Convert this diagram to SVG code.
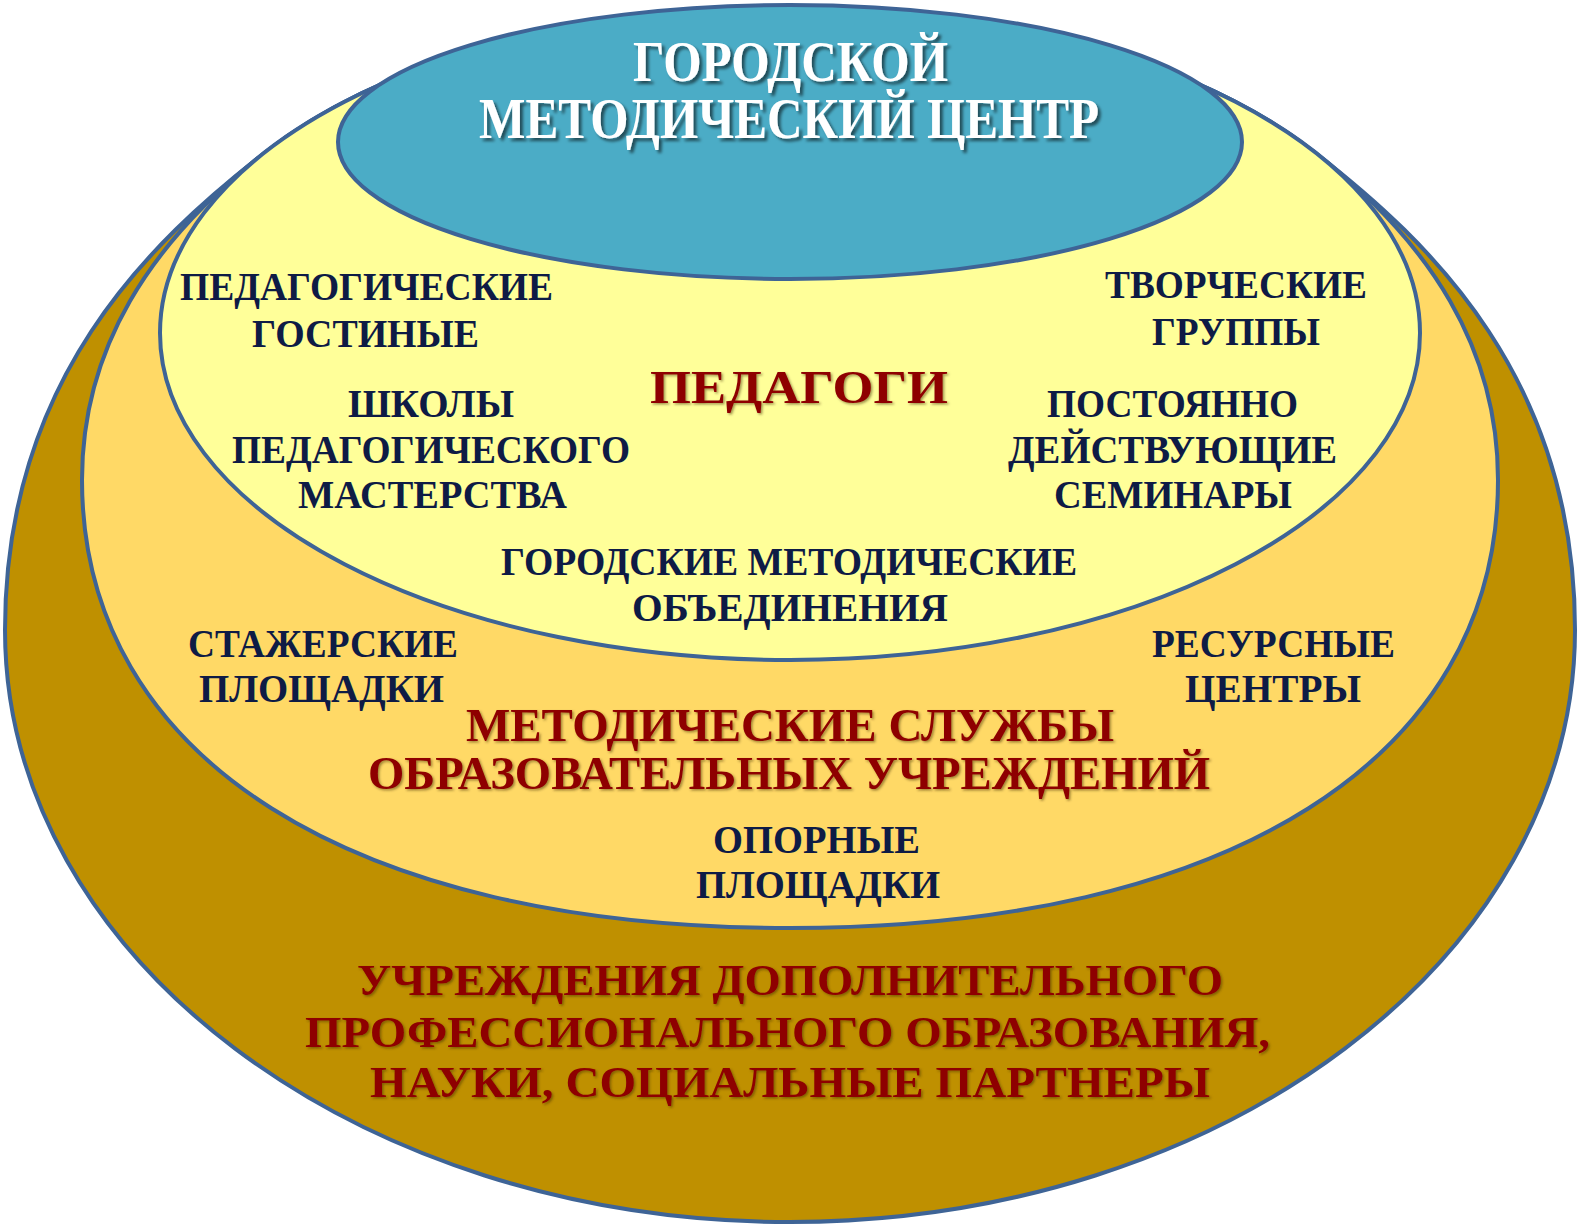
<svg xmlns="http://www.w3.org/2000/svg" width="1581" height="1225" viewBox="0 0 1581 1225">
<defs>
<style>
.ring{stroke:#3E6496;stroke-width:4}
.t{font-family:"Liberation Serif","DejaVu Serif",serif;font-weight:bold;font-size:40px;fill:#0E1B45}
.r{font-family:"Liberation Serif","DejaVu Serif",serif;font-weight:bold;fill:#8E0000;filter:url(#rs)}
.w{font-family:"Liberation Serif","DejaVu Serif",serif;font-weight:bold;font-size:56px;fill:#FFFFFF;filter:url(#ws)}
</style>
<filter id="ws" x="-10%" y="-30%" width="120%" height="160%">
<feDropShadow dx="3" dy="3" stdDeviation="1.5" flood-color="#000000" flood-opacity="0.55"/>
</filter>
<filter id="rs" x="-10%" y="-30%" width="120%" height="160%">
<feDropShadow dx="1.5" dy="1.5" stdDeviation="1" flood-color="#3a2a00" flood-opacity="0.5"/>
</filter>
</defs>
<rect width="1581" height="1225" fill="#FFFFFF"/>

<g id="outer">
<path class="ring" fill="#BF9000" d="M 267,151 C 148,243 5,380 5,630 C 5,957 357,1222 790,1222 C 1223,1222 1575,957 1575,630 C 1575,380 1432,243 1313,151 A 630 327 0 0 0 267 151 Z"/>
<text class="r" font-size="44" x="357" y="995" textLength="866" lengthAdjust="spacingAndGlyphs">УЧРЕЖДЕНИЯ ДОПОЛНИТЕЛЬНОГО</text>
<text class="r" font-size="44" x="305" y="1047" textLength="965" lengthAdjust="spacingAndGlyphs">ПРОФЕССИОНАЛЬНОГО ОБРАЗОВАНИЯ,</text>
<text class="r" font-size="44" x="370" y="1097" textLength="840" lengthAdjust="spacingAndGlyphs">НАУКИ, СОЦИАЛЬНЫЕ ПАРТНЕРЫ</text>
</g>

<g id="middle">
<path class="ring" fill="#FFD966" d="M 267,151 C 148,243 82,350 82,480 C 82,758 351,928 790,928 C 1229,928 1498,758 1498,480 C 1498,350 1432,243 1313,151 A 630 327 0 0 0 267 151 Z"/>
<text class="t" x="188" y="657" textLength="270" lengthAdjust="spacingAndGlyphs">СТАЖЕРСКИЕ</text>
<text class="t" x="199" y="702" textLength="245" lengthAdjust="spacingAndGlyphs">ПЛОЩАДКИ</text>
<text class="t" x="1152" y="657" textLength="243" lengthAdjust="spacingAndGlyphs">РЕСУРСНЫЕ</text>
<text class="t" x="1185" y="702" textLength="176" lengthAdjust="spacingAndGlyphs">ЦЕНТРЫ</text>
<text class="r" font-size="46" x="466" y="741" textLength="648" lengthAdjust="spacingAndGlyphs">МЕТОДИЧЕСКИЕ СЛУЖБЫ</text>
<text class="r" font-size="46" x="368" y="789" textLength="842" lengthAdjust="spacingAndGlyphs">ОБРАЗОВАТЕЛЬНЫХ УЧРЕЖДЕНИЙ</text>
<text class="t" x="713" y="853" textLength="207" lengthAdjust="spacingAndGlyphs">ОПОРНЫЕ</text>
<text class="t" x="696" y="898" textLength="244" lengthAdjust="spacingAndGlyphs">ПЛОЩАДКИ</text>
</g>

<g id="inner">
<ellipse class="ring" fill="#FFFF99" cx="790" cy="333" rx="630" ry="327"/>
<text class="t" x="180" y="300" textLength="373" lengthAdjust="spacingAndGlyphs">ПЕДАГОГИЧЕСКИЕ</text>
<text class="t" x="252" y="347" textLength="227" lengthAdjust="spacingAndGlyphs">ГОСТИНЫЕ</text>
<text class="t" x="348" y="417" textLength="166" lengthAdjust="spacingAndGlyphs">ШКОЛЫ</text>
<text class="t" x="232" y="463" textLength="398" lengthAdjust="spacingAndGlyphs">ПЕДАГОГИЧЕСКОГО</text>
<text class="t" x="298" y="508" textLength="269" lengthAdjust="spacingAndGlyphs">МАСТЕРСТВА</text>
<text class="t" x="1105" y="298" textLength="262" lengthAdjust="spacingAndGlyphs">ТВОРЧЕСКИЕ</text>
<text class="t" x="1152" y="345" textLength="168" lengthAdjust="spacingAndGlyphs">ГРУППЫ</text>
<text class="t" x="1047" y="417" textLength="251" lengthAdjust="spacingAndGlyphs">ПОСТОЯННО</text>
<text class="t" x="1008" y="463" textLength="329" lengthAdjust="spacingAndGlyphs">ДЕЙСТВУЮЩИЕ</text>
<text class="t" x="1054" y="508" textLength="238" lengthAdjust="spacingAndGlyphs">СЕМИНАРЫ</text>
<text class="r" font-size="47" x="650" y="403" textLength="298" lengthAdjust="spacingAndGlyphs">ПЕДАГОГИ</text>
<text class="t" font-size="43" x="501" y="575" textLength="576" lengthAdjust="spacingAndGlyphs">ГОРОДСКИЕ МЕТОДИЧЕСКИЕ</text>
<text class="t" font-size="43" x="632" y="621" textLength="316" lengthAdjust="spacingAndGlyphs">ОБЪЕДИНЕНИЯ</text>
</g>

<g id="center">
<ellipse class="ring" fill="#4BACC6" cx="790" cy="142" rx="452" ry="137"/>
<text class="w" x="633" y="81" textLength="315" lengthAdjust="spacingAndGlyphs">ГОРОДСКОЙ</text>
<text class="w" x="479" y="138" textLength="620" lengthAdjust="spacingAndGlyphs">МЕТОДИЧЕСКИЙ ЦЕНТР</text>
</g>

<g id="connectors"/>
</svg>
